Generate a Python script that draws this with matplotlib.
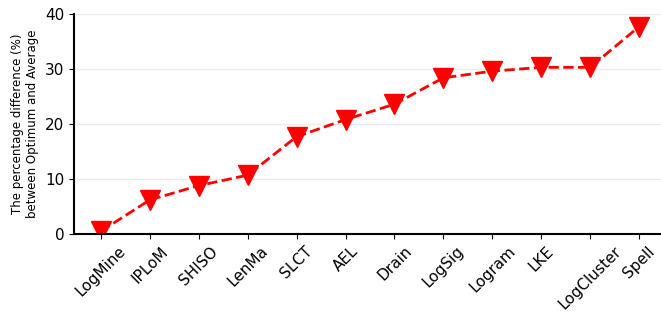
import numpy as np
import matplotlib.pyplot as plt

parsers = ["LogMine", "IPLoM", "SHISO", "LenMa", "SLCT", "AEL", "Drain",
           "LogSig", "Logram", "LKE", "LogCluster", "Spell"]
diff = [0.5, 6.2, 8.8, 10.7, 17.7, 20.8, 23.6, 28.4, 29.6, 30.3, 30.3, 37.7]

fig = plt.figure(figsize=(6.61, 3.18), dpi=100)
ax = fig.add_axes([74/661, 84/318, 592/661, 220/318])

x = np.arange(len(parsers))
ax.plot(x, diff, color='red', linestyle='--', linewidth=2,
        marker='v', markersize=14)

ax.set_xlim(-0.55, 11.55)
ax.set_ylim(0, 40)
ax.set_yticks([0, 10, 20, 30, 40])
ax.set_xticks(x)
ax.set_xticklabels(parsers, rotation=45, fontsize=11)
ax.tick_params(axis='y', labelsize=11)
ax.set_ylabel("The percentage difference (%)\nbetween Optimum and Average", fontsize=8.5)

ax.yaxis.grid(True, color='#ebebeb', linewidth=1)
ax.set_axisbelow(True)
ax.spines['top'].set_visible(False)
ax.spines['right'].set_visible(False)
ax.spines['left'].set_linewidth(1.5)
ax.spines['bottom'].set_linewidth(1.5)

plt.savefig('out.png', dpi=100)
